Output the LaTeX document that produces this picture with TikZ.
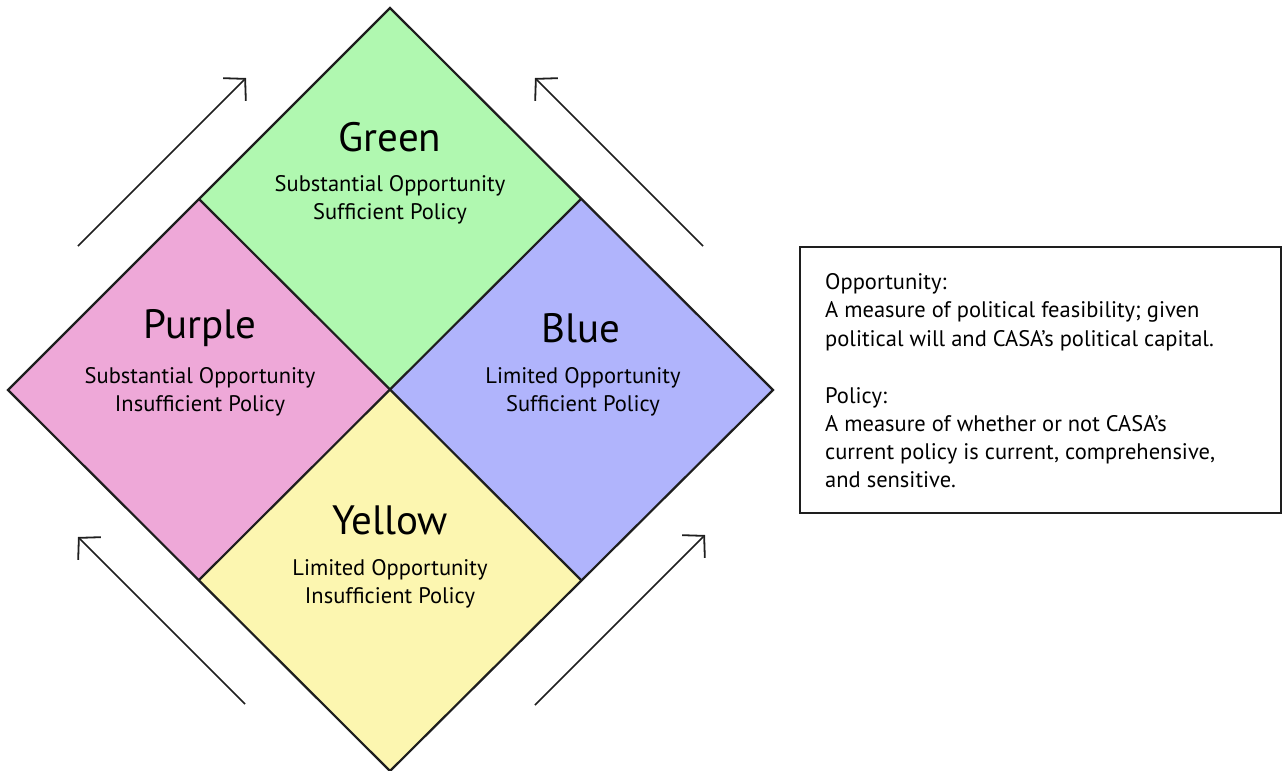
\documentclass[tikz,border=0pt]{standalone}
\usepackage{fontspec}
\setmainfont{PT Sans}
\usetikzlibrary{arrows.meta}
\definecolor{cgreen}{RGB}{176,248,176}
\definecolor{cpink}{RGB}{238,168,216}
\definecolor{cblue}{RGB}{176,180,252}
\definecolor{cyellow}{RGB}{252,246,176}
\definecolor{cline}{RGB}{30,30,30}
\tikzset{
  quad/.style={draw=cline,line width=2.2pt,line join=miter},
  flowarrow/.style={draw=cline,line width=1.7pt,-{Straight Barb[length=15pt,width=32pt,line width=1.8pt]}},
  titletext/.style={font=\fontsize{41}{44}\selectfont,text=black,inner sep=0pt},
  subtext/.style={font=\fontsize{22.5}{28}\selectfont,text=black,align=center,inner sep=0pt},
  boxline/.style={font=\fontsize{22.5}{28}\selectfont,text=black,inner sep=0pt,anchor=base west}
}
\begin{document}
\begin{tikzpicture}[x=1pt,y=-1pt]
\useasboundingbox (0,0) rectangle (1283,771);
% vertices
\coordinate (T) at (390,8);
\coordinate (L) at (8,390);
\coordinate (B) at (390,771);
\coordinate (R) at (773,390);
\coordinate (C) at (390,390);
\coordinate (TL) at (199,199);
\coordinate (TR) at (581,199);
\coordinate (BL) at (199,580);
\coordinate (BR) at (581,580);
% quadrants
\fill[cgreen] (T) -- (TR) -- (C) -- (TL) -- cycle;
\fill[cpink] (TL) -- (C) -- (BL) -- (L) -- cycle;
\fill[cblue] (TR) -- (R) -- (BR) -- (C) -- cycle;
\fill[cyellow] (C) -- (BR) -- (B) -- (BL) -- cycle;
\draw[quad] (T) -- (R) -- (B) -- (L) -- cycle;
\draw[quad] (TL) -- (BR);
\draw[quad] (TR) -- (BL);
% labels
\node[titletext] (g) at (390,137) {Green};
\node[subtext] (gs) at (390,200) {Substantial Opportunity\\Sufficient Policy};
\node[titletext] (p) at (200,328) {Purple};
\node[subtext] (ps) at (200,392) {Substantial Opportunity\\Insufficient Policy};
\node[titletext] (b) at (581,328) {Blue};
\node[subtext] (bs) at (583,392) {Limited Opportunity\\Sufficient Policy};
\node[titletext] (y) at (390,520) {Yellow};
\node[subtext] (ys) at (390,584) {Limited Opportunity\\Insufficient Policy};
% arrows
\coordinate (a1s) at (78,246);
\coordinate (a1e) at (246,78);
\coordinate (a2s) at (703,246);
\coordinate (a2e) at (535,78);
\coordinate (a3s) at (245,704);
\coordinate (a3e) at (78,537);
\coordinate (a4s) at (535,705);
\coordinate (a4e) at (705,535);
\draw[flowarrow] (a1s) -- (a1e);
\draw[flowarrow] (a2s) -- (a2e);
\draw[flowarrow] (a3s) -- (a3e);
\draw[flowarrow] (a4s) -- (a4e);
% legend box
\node[draw=cline,line width=2.2pt,minimum width=481pt,minimum height=266pt,anchor=north west,inner sep=0pt] (box) at (799,246) {};
\node[boxline] (l1) at (825,289) {Opportunity:};
\node[boxline] (l2) at (825,317) {A measure of political feasibility; given};
\node[boxline] (l3) at (825,346) {political will and CASA’s political capital.};
\node[boxline] (l4) at (825,403) {Policy:};
\node[boxline] (l5) at (825,431) {A measure of whether or not CASA’s};
\node[boxline] (l6) at (825,459) {current policy is current, comprehensive,};
\node[boxline] (l7) at (825,487) {and sensitive.};
\end{tikzpicture}
\end{document}
